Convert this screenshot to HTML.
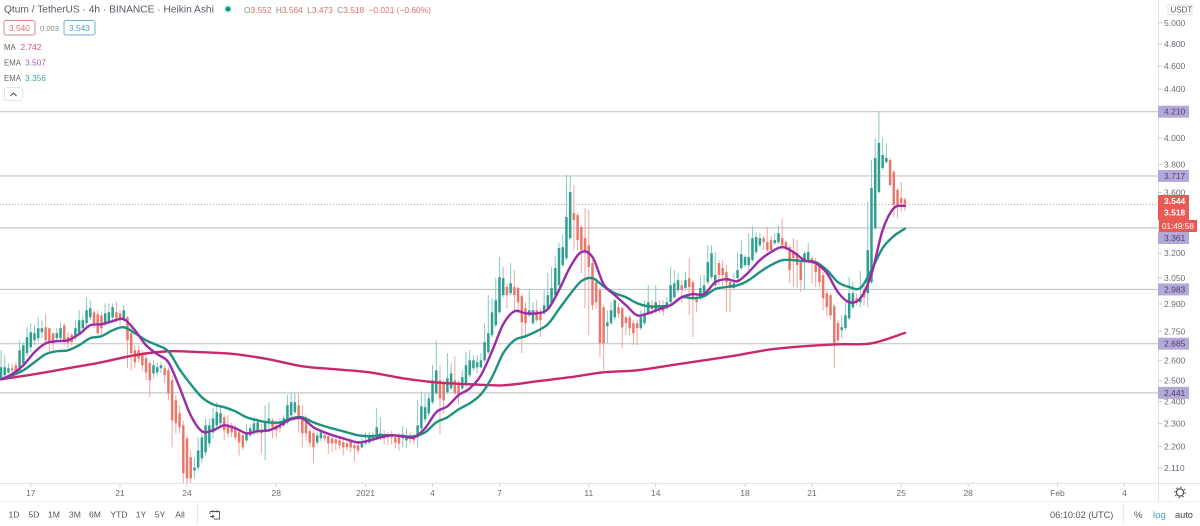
<!DOCTYPE html>
<html lang="en">
<head>
<meta charset="utf-8">
<title>Qtum / TetherUS 4h Heikin Ashi</title>
<style>
html,body{margin:0;padding:0;background:#fff;}
#stage{position:relative;width:1200px;height:526px;overflow:hidden;background:#fff;font-family:"Liberation Sans",sans-serif;}
#chart{position:absolute;left:0;top:0;}
svg text{font-family:"Liberation Sans",sans-serif;}
</style>
</head>
<body>
<div id="stage">
<svg id="chart" width="1200" height="526" viewBox="0 0 1200 526" xmlns="http://www.w3.org/2000/svg">
  <g id="levels"></g>
  <line x1="0" x2="1158" y1="204.5" y2="204.5" stroke="#c9a0a8" stroke-width="1" stroke-dasharray="1 2"/>
  <g id="candles"></g>
  <g id="lines"></g>

  <rect x="1158" y="0" width="42" height="502" fill="#fff"/>
  <rect x="0" y="484" width="1200" height="42" fill="#fff"/>
  <line x1="1158.5" x2="1158.5" y1="0" y2="502" stroke="#e0e3eb" stroke-width="1"/>
  <line x1="0" x2="1200" y1="483.5" y2="483.5" stroke="#e0e3eb" stroke-width="1"/>
  <line x1="0" x2="1200" y1="501.5" y2="501.5" stroke="#f0f1f4" stroke-width="1"/>
  <g id="priceAxis"></g>
  <g id="timeAxis"></g>
  <g id="tags"></g>

  <g>
    <rect x="1158" y="195" width="31" height="25" fill="#ea5a55"/>
    <text x="1164" y="204" font-size="8.5" fill="#fff" font-weight="bold">3.544</text>
    <text x="1164" y="215.7" font-size="8.5" fill="#fff" font-weight="bold">3.518</text>
    <rect x="1159" y="220" width="38" height="12" fill="#ea5a55"/>
    <text x="1162" y="229" font-size="8.2" fill="#fff">01:49:58</text>
  </g>

  <g>
    <rect x="1168" y="5" width="24" height="9.5" fill="#fff" stroke="#e0e3eb"/>
    <text x="1170.5" y="12.6" font-size="8" fill="#555">USDT</text>
  </g>

  <g>
    <text x="4" y="12.5" font-size="10.2" fill="#555a66">Qtum / TetherUS · 4h · BINANCE · Heikin Ashi</text>
    <circle cx="228" cy="9" r="4.5" fill="#d8f0ec"/>
    <circle cx="228" cy="9" r="2.5" fill="#11907f"/>
    <text x="244" y="13" font-size="8.4" fill="#d9706c"><tspan fill="#888">O</tspan>3.552 <tspan fill="#888" dx="2">H</tspan>3.564 <tspan fill="#888" dx="2">L</tspan>3.473 <tspan fill="#888" dx="2">C</tspan>3.518 <tspan dx="2">−0.021 (−0.60%)</tspan></text>
    <rect x="4" y="20.5" width="31" height="14.5" rx="2" fill="#fff" stroke="#dc8c8c"/>
    <text x="9" y="31" font-size="8.4" fill="#d9706c">3.540</text>
    <text x="40" y="31" font-size="7.6" fill="#888">0.003</text>
    <rect x="64" y="20.5" width="31" height="14.5" rx="2" fill="#fff" stroke="#6fb2d0"/>
    <text x="69" y="31" font-size="8.4" fill="#4a9bc0">3.543</text>
    <text x="4" y="50" font-size="7.8" fill="#666">MA</text>
    <text x="20.5" y="50" font-size="8.4" fill="#c8578a">2.742</text>
    <text x="4" y="65.5" font-size="7.8" fill="#666">EMA</text>
    <text x="25" y="65.5" font-size="8.4" fill="#a860b8">3.507</text>
    <text x="4" y="81" font-size="7.8" fill="#666">EMA</text>
    <text x="25" y="81" font-size="8.4" fill="#45a898">3.356</text>
    <rect x="4.5" y="87.5" width="18" height="13" rx="2" fill="#fff" stroke="#e3e5ea"/>
    <path d="M10.5 96 L13.5 93 L16.5 96" fill="none" stroke="#555" stroke-width="1.1"/>
  </g>

  <g id="rangeBar" font-size="8.6" fill="#555" text-anchor="middle">
    <text x="14" y="517.5">1D</text>
    <text x="34" y="517.5">5D</text>
    <text x="54" y="517.5">1M</text>
    <text x="75" y="517.5">3M</text>
    <text x="95" y="517.5">6M</text>
    <text x="119" y="517.5">YTD</text>
    <text x="141" y="517.5">1Y</text>
    <text x="160" y="517.5">5Y</text>
    <text x="180" y="517.5">All</text>
  </g>
  <line x1="197.5" x2="197.5" y1="503" y2="524" stroke="#e6e8ee"/>
  <g fill="none" stroke="#555" stroke-width="0.9">
    <path d="M210 511.5 H219.5 V519 H214 M210 511.5 V514 M213 510 V512.5 M217 510 V512.5 M210 516.5 H214 M212 514.8 L214 516.5 L212 518.2"/>
  </g>
  <text x="1050" y="518" font-size="9.2" fill="#555">06:10:02 (UTC)</text>
  <line x1="1123.5" x2="1123.5" y1="503" y2="524" stroke="#e6e8ee"/>
  <text x="1134" y="518" font-size="9.6" fill="#555">%</text>
  <text x="1153" y="518" font-size="9.6" fill="#4a9bc0">log</text>
  <text x="1175" y="518" font-size="9.2" fill="#444">auto</text>
  <g>
    <circle cx="1180" cy="492.5" r="3.6" fill="none" stroke="#555" stroke-width="1.2"/>
    <circle cx="1180" cy="492.5" r="5.2" fill="none" stroke="#555" stroke-width="1.2" stroke-dasharray="1.4 2.7"/>
  </g>
</svg>
</div>

<script>
var opens = [
2.511,2.526,2.540,2.560,2.575,2.550,2.585,2.636,2.667,2.703,
2.714,2.745,2.772,2.767,2.740,2.714,2.714,2.783,2.719,2.730,
2.719,2.740,2.767,2.794,2.826,2.854,2.843,2.837,2.794,2.799,
2.826,2.854,2.848,2.821,2.826,2.740,2.651,2.651,2.626,2.610,
2.585,2.535,2.540,2.560,2.560,2.550,2.501,2.406,2.346,2.292,
2.235,2.154,2.100,2.112,2.150,2.175,2.213,2.261,2.292,2.301,
2.328,2.292,2.292,2.279,2.261,2.248,2.226,2.248,2.257,2.261,
2.270,2.270,2.301,2.314,2.288,2.292,2.292,2.305,2.337,2.351,
2.383,2.323,2.305,2.266,2.257,2.217,2.235,2.248,2.244,2.235,
2.230,2.226,2.217,2.213,2.226,2.205,2.205,2.196,2.213,2.217,
2.230,2.239,2.239,2.252,2.248,2.252,2.239,2.248,2.235,2.226,
2.248,2.239,2.239,2.279,2.319,2.346,2.397,2.439,2.501,2.491,
2.444,2.463,2.501,2.491,2.463,2.477,2.526,2.560,2.565,2.565,
2.600,2.641,2.730,2.783,2.854,2.950,2.997,2.961,2.997,2.991,
2.944,2.876,2.837,2.794,2.865,2.848,2.848,2.876,2.904,2.950,
3.007,3.127,3.169,3.295,3.459,3.445,3.366,3.295,3.250,3.139,
3.025,2.979,2.882,2.778,2.794,2.826,2.882,2.876,2.826,2.826,
2.794,2.794,2.767,2.794,2.848,2.882,2.865,2.887,2.893,2.876,
2.910,2.938,2.979,3.007,2.991,3.049,3.025,2.938,2.932,2.950,
3.025,3.055,3.007,3.139,3.109,3.085,3.025,2.991,3.049,3.109,
3.127,3.127,3.157,3.207,3.250,3.295,3.269,3.282,3.263,3.269,
3.295,3.269,3.238,3.207,3.200,3.145,3.145,3.157,3.169,3.145,
3.127,3.067,2.961,2.950,2.887,2.794,2.756,2.767,2.821,2.882,
2.932,2.910,2.979,2.961,3.025,3.359,3.603,3.775,3.819,3.834,3.745,3.617,3.561,3.552
];
var closes = [
2.565,2.565,2.560,2.550,2.540,2.651,2.677,2.719,2.745,2.740,
2.767,2.767,2.703,2.693,2.687,2.740,2.767,2.703,2.687,2.693,
2.767,2.810,2.810,2.865,2.876,2.794,2.740,2.767,2.848,2.854,
2.882,2.821,2.810,2.865,2.703,2.636,2.590,2.610,2.575,2.540,
2.501,2.575,2.565,2.575,2.526,2.439,2.314,2.301,2.283,2.088,
2.068,2.068,2.112,2.183,2.239,2.292,2.292,2.323,2.351,2.346,
2.270,2.257,2.261,2.239,2.217,2.196,2.257,2.279,2.301,2.305,
2.257,2.305,2.323,2.283,2.270,2.279,2.323,2.383,2.397,2.397,
2.328,2.257,2.257,2.217,2.196,2.248,2.261,2.235,2.213,2.213,
2.213,2.205,2.196,2.196,2.196,2.192,2.183,2.213,2.226,2.239,
2.248,2.283,2.257,2.235,2.239,2.239,2.217,2.213,2.252,2.248,
2.239,2.226,2.292,2.378,2.374,2.415,2.501,2.550,2.415,2.406,
2.511,2.535,2.439,2.430,2.516,2.575,2.600,2.600,2.590,2.600,
2.693,2.740,2.854,2.921,3.055,3.049,2.950,3.019,2.950,2.910,
2.799,2.794,2.865,2.865,2.810,2.810,2.893,2.950,2.991,3.109,
3.232,3.238,3.432,3.603,3.412,3.282,3.219,3.207,3.115,2.893,
2.910,2.687,2.687,2.799,2.865,2.921,2.848,2.772,2.794,2.767,
2.740,2.767,2.826,2.848,2.910,2.871,2.910,2.871,2.859,2.910,
3.007,3.019,3.037,2.979,3.037,2.997,2.932,2.910,2.991,3.007,
3.145,3.200,3.067,3.067,3.067,3.025,2.991,3.019,3.097,3.194,
3.176,3.176,3.295,3.301,3.295,3.269,3.219,3.219,3.282,3.327,
3.250,3.232,3.097,3.169,3.127,3.037,3.200,3.207,3.145,3.085,
3.025,2.932,2.882,2.837,2.687,2.703,2.772,2.837,2.961,2.961,
2.910,2.938,2.938,3.219,3.631,3.849,3.962,3.871,3.849,3.652,3.513,3.513,3.526,3.518
];
var highs = [
2.651,2.626,2.585,2.585,2.590,2.703,2.693,2.772,2.794,2.783,
2.826,2.810,2.843,2.767,2.745,2.767,2.799,2.794,2.745,2.740,
2.810,2.865,2.837,2.938,2.921,2.865,2.865,2.854,2.904,2.904,
2.904,2.915,2.865,2.893,2.832,2.783,2.677,2.677,2.651,2.626,
2.600,2.600,2.590,2.590,2.575,2.565,2.526,2.430,2.383,2.314,
2.248,2.183,2.154,2.239,2.270,2.323,2.323,2.369,2.397,2.374,
2.337,2.337,2.305,2.292,2.270,2.257,2.296,2.296,2.328,2.323,
2.301,2.383,2.397,2.323,2.314,2.323,2.337,2.430,2.439,2.439,
2.439,2.383,2.337,2.279,2.270,2.261,2.270,2.261,2.257,2.244,
2.239,2.235,2.235,2.226,2.235,2.213,2.213,2.235,2.261,2.261,
2.261,2.369,2.328,2.270,2.261,2.266,2.248,2.257,2.288,2.279,
2.261,2.252,2.406,2.448,2.439,2.444,2.575,2.703,2.575,2.501,
2.636,2.585,2.620,2.501,2.550,2.641,2.651,2.626,2.626,2.636,
2.794,2.950,2.932,3.049,3.176,3.115,3.019,3.139,3.097,3.001,
2.956,2.910,2.979,2.910,2.921,2.876,2.979,3.079,3.115,3.182,
3.263,3.314,3.724,3.717,3.652,3.459,3.379,3.492,3.479,3.157,
3.049,2.991,2.893,2.865,2.910,2.932,2.904,2.887,2.837,2.837,
2.810,2.810,2.865,2.921,3.007,2.921,3.007,2.921,2.921,2.938,
3.115,3.097,3.079,3.037,3.085,3.169,3.037,2.950,3.067,3.067,
3.250,3.250,3.207,3.157,3.157,3.127,3.037,3.079,3.200,3.282,
3.188,3.327,3.373,3.333,3.327,3.308,3.366,3.308,3.327,3.373,
3.425,3.282,3.250,3.295,3.282,3.157,3.213,3.263,3.182,3.169,
3.139,3.085,2.979,2.961,2.899,2.810,2.837,2.910,3.055,3.025,
2.961,3.091,3.007,3.533,3.834,4.000,4.210,4.000,3.962,3.849,3.760,3.631,3.674,3.564
];
var lows = [
2.501,2.511,2.531,2.535,2.531,2.540,2.570,2.620,2.641,2.677,
2.693,2.714,2.677,2.641,2.641,2.693,2.703,2.677,2.661,2.677,
2.703,2.730,2.745,2.778,2.810,2.767,2.730,2.730,2.778,2.788,
2.810,2.799,2.783,2.799,2.560,2.550,2.560,2.590,2.550,2.501,
2.420,2.511,2.526,2.535,2.487,2.406,2.196,2.257,2.257,2.048,
2.048,2.048,2.068,2.100,2.133,2.162,2.196,2.235,2.283,2.283,
2.226,2.239,2.239,2.226,2.162,2.183,2.217,2.239,2.248,2.252,
2.171,2.141,2.261,2.235,2.239,2.261,2.283,2.296,2.323,2.342,
2.261,2.196,2.226,2.196,2.129,2.205,2.222,2.222,2.171,2.175,
2.183,2.187,2.162,2.183,2.175,2.137,2.166,2.192,2.205,2.209,
2.217,2.226,2.226,2.209,2.205,2.209,2.192,2.183,2.196,2.192,
2.213,2.209,2.196,2.270,2.305,2.333,2.388,2.430,2.252,2.346,
2.434,2.453,2.430,2.388,2.453,2.467,2.516,2.550,2.535,2.560,
2.590,2.631,2.719,2.772,2.848,2.938,2.876,2.950,2.865,2.854,
2.636,2.714,2.826,2.783,2.799,2.719,2.837,2.865,2.893,2.938,
2.997,3.115,3.157,3.282,3.219,3.219,3.079,2.876,2.730,2.865,
2.876,2.615,2.550,2.687,2.783,2.810,2.821,2.661,2.730,2.730,
2.677,2.677,2.756,2.783,2.837,2.837,2.848,2.848,2.837,2.865,
2.899,2.927,2.967,2.904,2.979,2.837,2.719,2.854,2.921,2.938,
3.013,3.043,2.997,3.007,3.007,2.854,2.854,2.979,3.037,3.097,
3.115,3.097,3.145,3.194,3.238,3.219,3.207,3.207,3.250,3.257,
3.219,3.219,3.019,2.997,2.991,2.967,2.979,3.139,3.019,2.997,
2.997,2.865,2.832,2.810,2.560,2.677,2.714,2.756,2.810,2.871,
2.893,2.882,2.893,2.882,3.013,3.346,3.589,3.760,3.804,3.638,3.432,3.425,3.465,3.473
];
var emaFast = [
2.506,2.531,2.575,2.641,2.687,2.698,2.703,2.735,2.783,2.788,
2.805,2.816,2.756,2.677,2.631,2.590,2.467,2.337,2.266,2.270,
2.292,2.279,2.257,2.266,2.270,2.292,2.319,2.323,2.283,2.261,
2.244,2.230,2.217,2.226,2.239,2.248,2.244,2.239,2.279,2.351,
2.378,2.430,2.462,2.525,2.646,2.788,2.859,2.848,2.848,2.871,
2.979,3.115,3.207,3.176,3.013,2.950,2.893,2.837,2.848,2.871,
2.893,2.938,2.956,2.956,3.025,3.043,3.031,3.085,3.157,3.207,
3.238,3.207,3.157,3.139,3.079,2.967,2.910,2.932,3.073,3.346,
3.492,3.507
];
var emaSlow = [
2.506,2.525,2.550,2.590,2.631,2.646,2.651,2.677,2.714,2.724,
2.756,2.772,2.740,2.703,2.677,2.646,2.555,2.482,2.420,2.387,
2.374,2.355,2.328,2.314,2.305,2.305,2.323,2.328,2.305,2.288,
2.274,2.261,2.248,2.244,2.248,2.248,2.244,2.244,2.261,2.305,
2.328,2.364,2.392,2.434,2.516,2.636,2.703,2.724,2.751,2.788,
2.871,2.956,3.031,3.049,3.001,2.961,2.938,2.904,2.887,2.887,
2.893,2.938,2.932,2.944,2.985,2.997,3.007,3.037,3.085,3.127,
3.157,3.157,3.151,3.145,3.097,3.025,2.997,2.991,3.097,3.232,
3.308,3.356
];
var maLong = [
2.506,2.531,2.560,2.590,2.626,2.646,2.641,2.631,2.605,2.570,
2.555,2.540,2.511,2.491,2.482,2.477,2.496,2.516,2.540,2.550,
2.575,2.600,2.626,2.656,2.672,2.682,2.687,2.742
];
var priceTicks = [5.4,5.0,4.8,4.6,4.4,4.0,3.8,3.6,3.2,3.05,2.9,2.75,2.6,2.5,2.4,2.3,2.2,2.11];
var levelPrices = [4.210,3.717,3.361,2.983,2.685,2.441];
var timeLabels = ["17","21","24","28","2021","4","7","11","14","18","21","25","28","Feb","4"];
var timeBars = [8,32,50,74,98,116,134,158,176,200,218,242,260,284,302];

var SVGNS = "http://www.w3.org/2000/svg";
function xOf(bar){ return bar * 3.72 + 1; }
function yOf(price){ return 23 + 515.8 * Math.log(5 / price); }
function make(tag, attrs){
  var el = document.createElementNS(SVGNS, tag);
  for (var k in attrs) el.setAttribute(k, attrs[k]);
  return el;
}
function smoothPath(values, step){
  var pts = values.map(function(v, i){ return [xOf(i * step), yOf(v)]; });
  var d = "M" + pts[0][0].toFixed(2) + " " + pts[0][1].toFixed(2);
  for (var i = 0; i < pts.length - 1; i++){
    var p0 = pts[Math.max(i - 1, 0)], p1 = pts[i], p2 = pts[i + 1], p3 = pts[Math.min(i + 2, pts.length - 1)];
    var c1x = p1[0] + (p2[0] - p0[0]) / 6, c1y = p1[1] + (p2[1] - p0[1]) / 6;
    var c2x = p2[0] - (p3[0] - p1[0]) / 6, c2y = p2[1] - (p3[1] - p1[1]) / 6;
    d += "C" + c1x.toFixed(2) + " " + c1y.toFixed(2) + " " + c2x.toFixed(2) + " " + c2y.toFixed(2) + " " + p2[0].toFixed(2) + " " + p2[1].toFixed(2);
  }
  return d;
}

var levelsG = document.getElementById("levels");
var tagsG = document.getElementById("tags");
levelPrices.forEach(function(p){
  var y = yOf(p);
  var line = make("line", {x1:0, x2:1158, y1:y, y2:y, stroke:"#c6c6cc", "stroke-width":1.2});
  
  
  levelsG.appendChild(line);
  var tagY = y;
  if (tagY > 190 && tagY < 238) tagY = 238;
  var rect = make("rect", {x:1158, y:tagY - 6, width:31, height:12, fill:"#b4a8d8"});
  
  
  tagsG.appendChild(rect);
  var txt = make("text", {x:1164, y:tagY + 3, "font-size":8.5, fill:"#4a4470"});
  
  
  txt.textContent = p.toFixed(3);
  tagsG.appendChild(txt);
});

var candlesG = document.getElementById("candles");
opens.forEach(function(o, i){
  var c = closes[i], up = c >= o, x = xOf(i);
  var wick = make("line", {x1:x, x2:x, y1:yOf(highs[i]), y2:yOf(lows[i]), stroke: up ? "#88c9c1" : "#eda79f", "stroke-width":1});
  
  
  candlesG.appendChild(wick);
  var top = yOf(Math.max(o, c)), bot = yOf(Math.min(o, c));
  var body = make("rect", {x:x - 1.25, y:top, width:2.5, height:Math.max(bot - top, 1), fill: up ? "#2f9f90" : "#e9786c"});
  
  
  candlesG.appendChild(body);
});

var linesG = document.getElementById("lines");
var maPath = make("path", {d:smoothPath(maLong, 9), fill:"none", stroke:"#c9286f", "stroke-width":2.4, "stroke-linejoin":"round", "stroke-linecap":"round"});


linesG.appendChild(maPath);
var slowPath = make("path", {d:smoothPath(emaSlow, 3), fill:"none", stroke:"#1f9180", "stroke-width":2.4, "stroke-linejoin":"round", "stroke-linecap":"round"});


linesG.appendChild(slowPath);
var fastPath = make("path", {d:smoothPath(emaFast, 3), fill:"none", stroke:"#9a2ca6", "stroke-width":2.4, "stroke-linejoin":"round", "stroke-linecap":"round"});


linesG.appendChild(fastPath);

var priceG = document.getElementById("priceAxis");
priceTicks.forEach(function(p){
  var y = yOf(p);
  var tick = make("line", {x1:1158, x2:1162, y1:y, y2:y, stroke:"#c8cbd4", "stroke-width":1});
  
  
  priceG.appendChild(tick);
  var label = make("text", {x:1164, y:y + 3, "font-size":8.5, fill:"#6a6d78"});
  
  
  label.textContent = p.toFixed(3);
  priceG.appendChild(label);
});

var timeG = document.getElementById("timeAxis");
timeLabels.forEach(function(t, i){
  var x = xOf(timeBars[i]);
  var tick = make("line", {x1:x, x2:x, y1:484, y2:487, stroke:"#d0d3dc", "stroke-width":1});
  
  
  timeG.appendChild(tick);
  var label = make("text", {x:x, y:496, "font-size":8.5, fill:"#6a6d78", "text-anchor":"middle"});
  
  
  label.textContent = t;
  timeG.appendChild(label);
});
</script>
</body>
</html>
